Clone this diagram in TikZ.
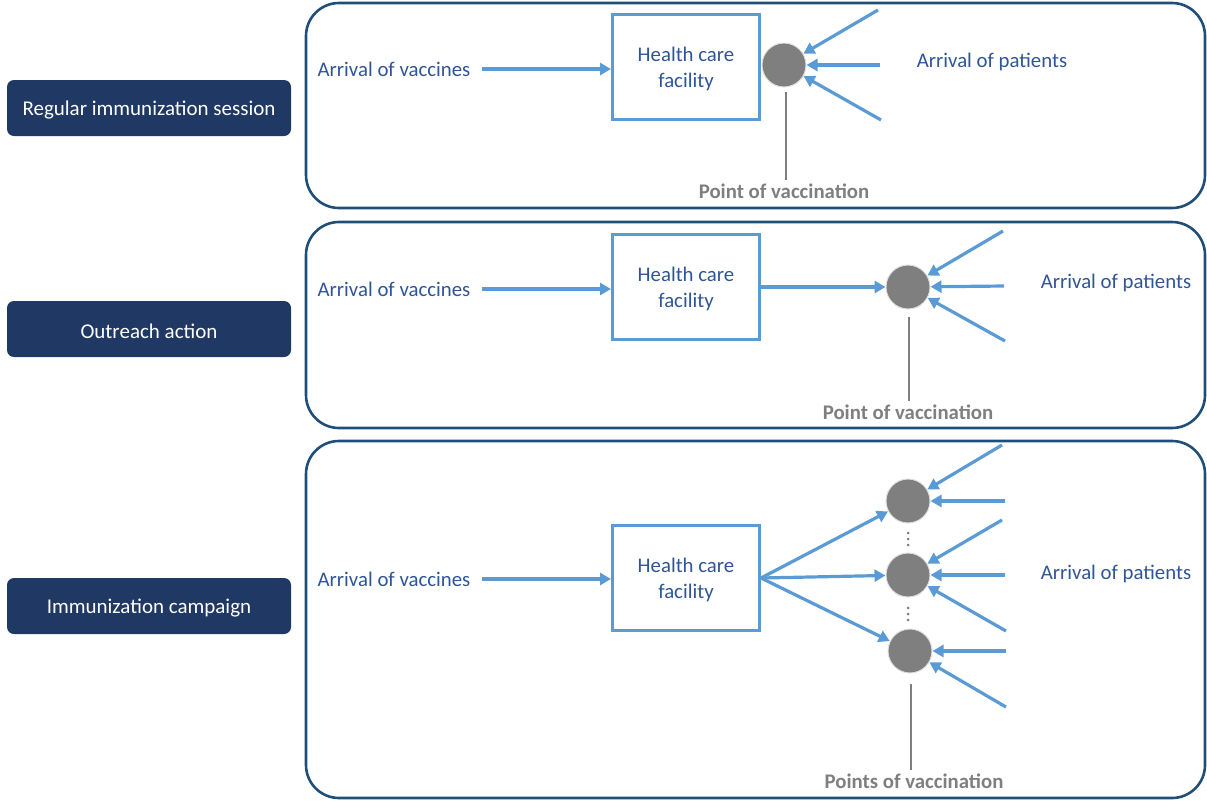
\documentclass[tikz,border=0pt]{standalone}
\usepackage{fontspec}
\setmainfont{Carlito}
\usetikzlibrary{arrows.meta}
\definecolor{navy}{HTML}{1F3864}
\definecolor{frame}{HTML}{1F4E79}
\definecolor{lblue}{HTML}{5B9BD5}
\definecolor{tblue}{HTML}{2F5597}
\definecolor{gr}{HTML}{7F7F7F}
\newcommand{\lowerby}[2]{\raisebox{-#1}[\height][\depth]{#2}}
\begin{document}
\begin{tikzpicture}[x=1pt,y=-1pt,
 panel/.style={draw=frame, line width=2.6pt, rounded corners=33pt},
 lab/.style={fill=navy, rounded corners=7pt, text=white, minimum width=284pt, minimum height=56pt, font=\fontsize{21}{24}\selectfont, inner sep=0pt},
 txt/.style={text=tblue, font=\fontsize{20.8}{24}\selectfont},
 hcf/.style={draw=lblue, line width=3pt, minimum width=147pt, minimum height=105pt, text=tblue, align=center, font=\fontsize{20.8}{26}\selectfont},
 pv/.style={circle, fill=gr, draw=white!75!gr, line width=1pt, minimum size=44pt, inner sep=0pt},
 arr/.style={draw=lblue, line width=3.2pt, -{Triangle[length=11pt,width=12pt]}},
 vl/.style={draw=gr, line width=1.4pt},
 gt/.style={text=gr, font=\bfseries\fontsize{20.8}{24}\selectfont}
]
\useasboundingbox (0,0) rectangle (1207,801);
% panels
\draw[panel] (306,3) rectangle (1205,208);
\draw[panel] (306,222) rectangle (1205,428);
\draw[panel] (306,441) rectangle (1205,798);
% left labels
\node[lab] (l1) at (149,108) {\lowerby{2pt}{Regular immunization session}};
\node[lab] (l2) at (149,329) {\lowerby{2pt}{Outreach action}};
\node[lab] (l3) at (149,606) {\lowerby{2pt}{Immunization campaign}};

% ---- panel 1
\node[txt] (va1) at (394,69) {Arrival of vaccines};
\node[hcf] (h1) at (686,67) {\lowerby{2pt}{\shortstack{Health care\\[9pt]facility}}};
\node[pv] (c1) at (784,65) {};
\node[txt] (ap1) at (992,62) {Arrival of patients};
\node[gt] (pv1) at (784,191) {Point of vaccination};
\draw[arr, shorten <=8pt] (va1.east) -- (va1.east -| h1.west);
\coordinate (p11) at (878,10);
\coordinate (p12) at (880,65);
\coordinate (p13) at (881,120);
\draw[arr] (p11) -- (c1);
\draw[arr] (p12) -- (c1);
\draw[arr] (p13) -- (c1);
\draw[vl] ([xshift=2pt,yshift=-4pt]c1.south) -- ([xshift=2pt]c1.south |- pv1.north);

% ---- panel 2
\node[txt] (va2) at (394,289) {Arrival of vaccines};
\node[hcf] (h2) at (686,287) {\lowerby{2pt}{\shortstack{Health care\\[9pt]facility}}};
\node[pv] (c2) at (908,287) {};
\node[txt] (ap2) at (1116,283) {Arrival of patients};
\node[gt] (pv2) at (908,412) {Point of vaccination};
\draw[arr, shorten <=8pt] (va2.east) -- (va2.east -| h2.west);
\draw[arr] (h2.east) -- (c2);
\coordinate (p21) at (1003,231);
\coordinate (p22) at (1004,286);
\coordinate (p23) at (1005,341);
\draw[arr] (p21) -- (c2);
\draw[arr] (p22) -- (c2);
\draw[arr] (p23) -- (c2);
\draw[vl] ([xshift=1pt,yshift=-7pt]c2.south) -- ([xshift=1pt]c2.south |- pv2.north);

% ---- panel 3
\node[txt] (va3) at (394,579) {Arrival of vaccines};
\node[hcf] (h3) at (686,578) {\lowerby{2pt}{\shortstack{Health care\\[9pt]facility}}};
\node[pv] (c31) at (908,501) {};
\node[pv] (c32) at (908,575) {};
\node[pv] (c33) at (910,651) {};
\node[txt] (ap3) at (1116,574) {Arrival of patients};
\node[gt] (pv3) at (914,781) {Points of vaccination};
\draw[arr, shorten <=8pt] (va3.east) -- (va3.east -| h3.west);
\draw[arr] (h3.east) -- (c31);
\draw[arr] (h3.east) -- (c32);
\draw[arr] (h3.east) -- (c33);
\coordinate (q1) at (1002,445);
\coordinate (q2) at (1005,501);
\coordinate (q3) at (1002,520);
\coordinate (q4) at (1005,575);
\coordinate (q5) at (1006,631);
\coordinate (q6) at (1006,651);
\coordinate (q7) at (1006,707);
\draw[arr] (q1) -- (c31);
\draw[arr] (q2) -- (c31);
\draw[arr] (q3) -- (c32);
\draw[arr] (q4) -- (c32);
\draw[arr] (q5) -- (c32);
\draw[arr] (q6) -- (c33);
\draw[arr] (q7) -- (c33);
\foreach \y in {533,539,545,608,614,620} \fill[gr] (908,\y) circle (1.5pt);
\draw[vl] ([xshift=1pt,yshift=-10pt]c33.south) -- ([xshift=1pt]c33.south |- pv3.north);
\end{tikzpicture}
\end{document}
